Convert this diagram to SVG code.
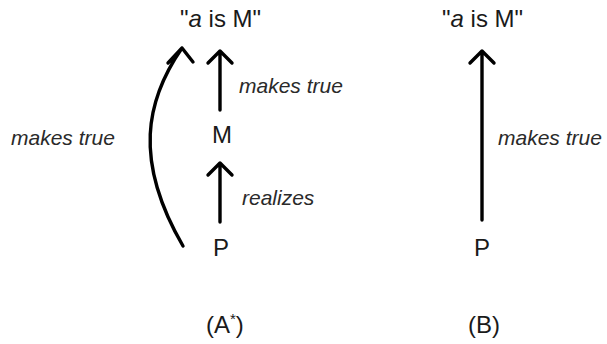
<svg xmlns="http://www.w3.org/2000/svg" width="607" height="344" viewBox="0 0 607 344">
<style>
  .t { font-family: "Liberation Sans", Arial, sans-serif; font-size: 24px; fill: #1a1a1a; }
  .l { font-family: "Liberation Sans", Arial, sans-serif; font-size: 21px; font-style: italic; fill: #2a2a2a; }
  .c { fill: none; stroke: #000; stroke-width: 3.4; stroke-linecap: round; stroke-linejoin: round; }
</style>
<rect width="607" height="344" fill="#fff"/>
<g id="nodeA-top"><text class="t" x="180" y="27">"<tspan font-style="italic">a</tspan> is M"</text></g>
<g id="nodeA-M"><text class="t" x="222" y="143" text-anchor="middle">M</text></g>
<g id="nodeA-P"><text class="t" x="221" y="256" text-anchor="middle">P</text></g>
<g id="nodeB-top"><text class="t" x="442" y="27">"<tspan font-style="italic">a</tspan> is M"</text></g>
<g id="nodeB-P"><text class="t" x="482" y="256" text-anchor="middle">P</text></g>
<g id="captions">
  <text class="t" x="206" y="333">(A<tspan font-size="15" dy="-9">*</tspan><tspan dy="9">)</tspan></text>
  <text class="t" x="468" y="333">(B)</text>
</g>
<g id="connectors">
  <path class="c" d="M220,110 V51 M208,63 L220,51 L232,63"/>
  <path class="c" d="M220,222 V163 M208,175 L220,163 L232,175"/>
  <path class="c" d="M482,220 V51 M470,63 L482,51 L494,63"/>
  <path class="c" d="M183,246 C133,160 146,100 182,48 M168,63 L182,48 L193,62"/>
</g>
<g id="labels">
  <text class="l" x="239" y="93">makes true</text>
  <text class="l" x="242" y="205">realizes</text>
  <text class="l" x="11" y="145">makes true</text>
  <text class="l" x="498" y="145">makes true</text>
</g>
</svg>
